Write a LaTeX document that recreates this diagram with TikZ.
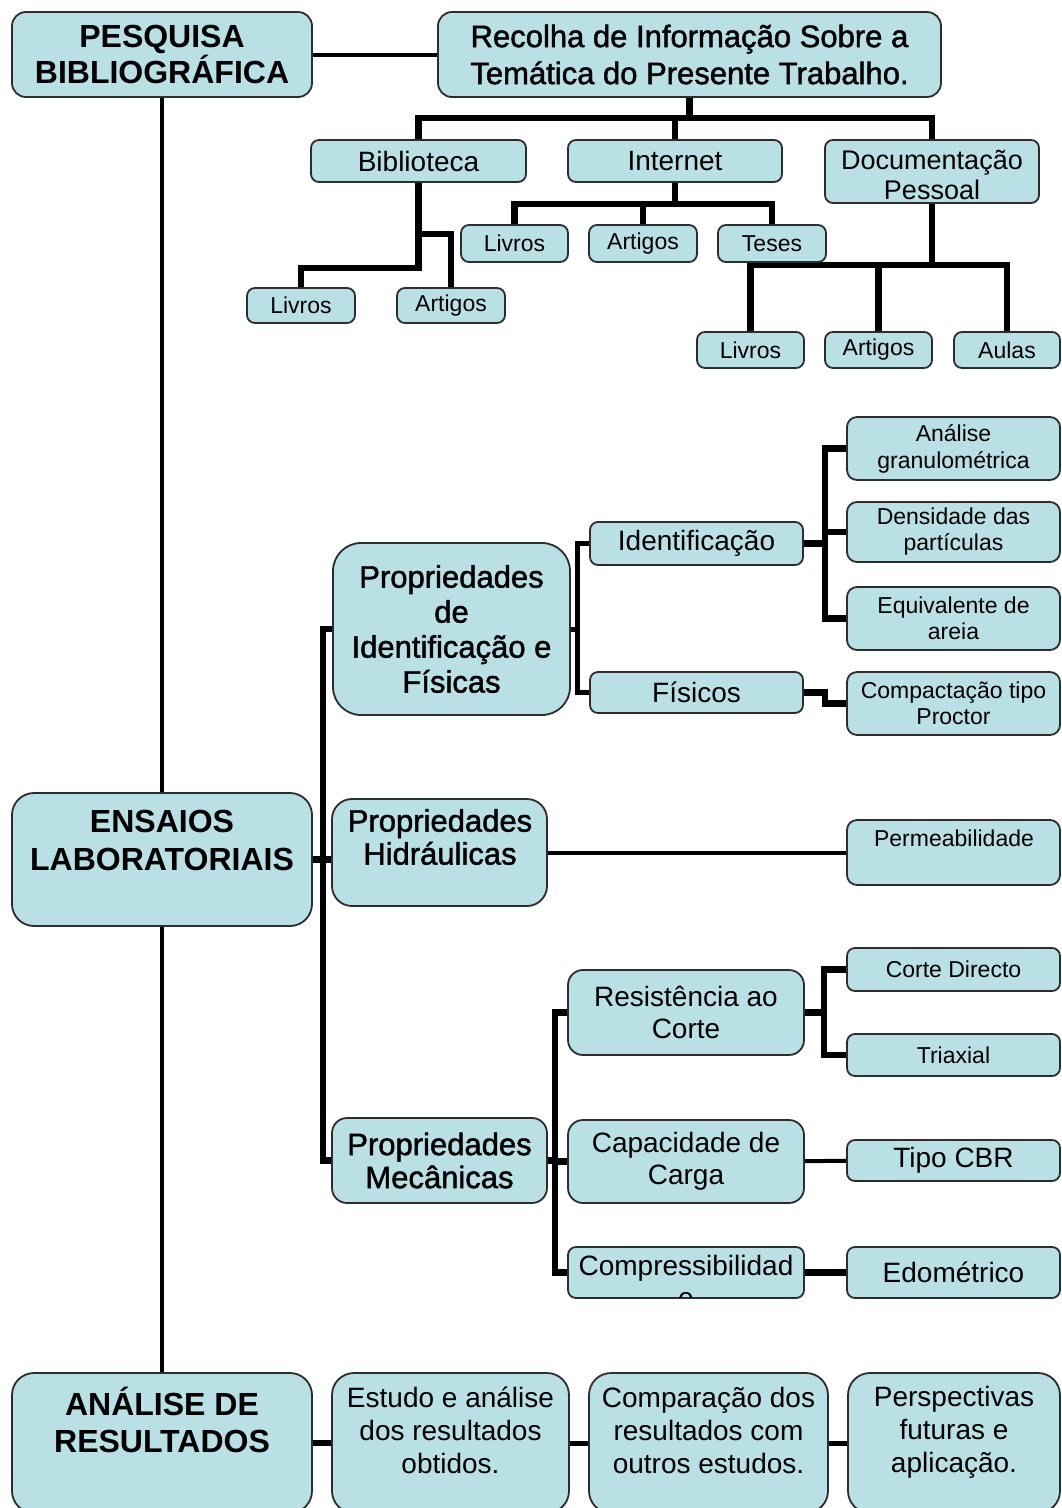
\documentclass[tikz,border=0pt]{standalone}
\usepackage{fontspec}
\setmainfont{Liberation Sans}
\newfontfamily\semib[FakeBold=1.5]{Liberation Sans}
\usetikzlibrary{backgrounds}
\definecolor{boxfill}{RGB}{185,224,228}
\definecolor{boxline}{RGB}{45,45,45}
\newcommand\BX[7][]{\node[box,minimum width={#5pt-#3pt},minimum height={#6pt-#4pt},#1] (#2) at ({(#3+#5)/2},{(#4+#6)/2}) {#7};}
\newcommand\fs[2]{\fontsize{#1}{#2}\selectfont}
\begin{document}
\begin{tikzpicture}[x=1pt,y=-1pt,
  box/.style={draw=boxline,fill=boxfill,line width=1.8pt,rounded corners=8pt,inner sep=0pt,align=center},
  bus/.style={line width=6.5pt,line join=miter},
  mid/.style={line width=5pt,line join=miter},
  thinl/.style={line width=4pt},
  txt/.style={inner sep=0pt,align=center}]
\clip (0,0) rectangle (1062,1508);
% top
\BX[rounded corners=14pt,font=\bfseries\fs{32}{36}]{pesq}{12}{12}{312}{97}{PESQUISA\\BIBLIOGRÁFICA}
\BX[rounded corners=14pt,font=\semib\fs{31}{37}]{rec}{438}{12}{941}{97}{Recolha de Informação Sobre a\\Temática do Presente Trabalho.}
\BX[font=\fs{28}{32}]{bib}{311}{140}{526}{182}{Biblioteca}
\BX[font=\fs{28}{32}]{int}{568}{140}{782}{182}{Internet}
\BX{doc}{825}{140}{1039}{203}{}
\node[txt,font=\fs{27}{30}] (docT) at (932,175) {Documentação\\Pessoal};
\BX[font=\fs{23}{26}]{livI}{461}{225}{568}{262}{Livros}
\BX[font=\fs{23}{26}]{artI}{589}{225}{697}{262}{Artigos}
\BX[font=\fs{23}{26}]{tesI}{718}{225}{826}{262}{Teses}
\BX[font=\fs{23}{26}]{livB}{247}{288}{355}{323}{Livros}
\BX[font=\fs{23}{26}]{artB}{397}{288}{505}{323}{Artigos}
\BX[font=\fs{23}{26}]{livD}{697}{332}{804}{368}{Livros}
\BX[font=\fs{23}{26}]{artD}{825}{332}{932}{368}{Artigos}
\BX[font=\fs{23}{26}]{aul}{954}{332}{1060}{368}{Aulas}
% identification
\BX[rounded corners=28pt,font=\semib\fs{31}{35}]{pid}{333}{543}{570}{715}{Propriedades\\de\\Identificação e\\Físicas}
\BX[font=\fs{28}{32}]{ident}{590}{522}{803}{565}{Identificação}
\BX[font=\fs{28}{32}]{fis}{590}{672}{803}{713}{Físicos}
\BX[rounded corners=10pt,font=\fs{23}{27}]{ana}{847}{417}{1060}{480}{Análise\\granulométrica}
\BX[rounded corners=10pt,font=\fs{23}{26}]{den}{847}{502}{1060}{562}{Densidade das\\partículas}
\BX[rounded corners=10pt,font=\fs{23}{26}]{equ}{847}{587}{1060}{650}{Equivalente de\\areia}
\BX[rounded corners=10pt,font=\fs{23}{26}]{compac}{847}{672}{1060}{735}{Compactação tipo\\Proctor}
% ensaios
\BX[rounded corners=22pt]{ens}{12}{793}{312}{926}{}
\node[txt,font=\bfseries\fs{32}{38}] (ensT) at (162,840) {ENSAIOS\\LABORATORIAIS};
\BX[rounded corners=20pt]{hid}{332}{799}{547}{906}{}
\node[txt,font=\semib\fs{31}{33}] (hidT) at (440,837) {Propriedades\\Hidráulicas};
\BX[rounded corners=10pt]{perm}{847}{820}{1060}{885}{}
\node[txt,font=\fs{23}{26}] (permT) at (954,838) {Permeabilidade};
% mecanicas
\BX[rounded corners=15pt,font=\semib\fs{31}{33}]{pmec}{332}{1118}{547}{1203}{Propriedades\\Mecânicas}
\BX[rounded corners=15pt,font=\fs{28}{32}]{res}{568}{970}{804}{1055}{Resistência ao\\Corte}
\BX[rounded corners=15pt,font=\fs{28}{32}]{cap}{568}{1120}{804}{1203}{Capacidade de\\Carga}
\BX{compr}{568}{1247}{804}{1298}{}
\begin{scope}
\clip[rounded corners=8pt] (569,1248) rectangle (803,1297);
\node[txt,font=\fs{28}{32}] (comprT) at (686,1281) {Compressibilidad\\e};
\end{scope}
\BX[font=\fs{23}{26}]{cd}{847}{948}{1060}{991}{Corte Directo}
\BX[font=\fs{23}{26}]{tri}{847}{1034}{1060}{1076}{Triaxial}
\BX[font=\fs{28}{32}]{cbr}{847}{1140}{1060}{1181}{Tipo CBR}
\BX[font=\fs{28}{32}]{edo}{847}{1247}{1060}{1298}{Edométrico}
% bottom
\BX[rounded corners=22pt]{anal}{12}{1373}{312}{1513}{}
\node[txt,font=\bfseries\fs{32}{37}] (analT) at (162,1420) {ANÁLISE DE\\RESULTADOS};
\BX[rounded corners=22pt]{est}{332}{1373}{569}{1513}{}
\node[txt,font=\fs{28}{33}] (estT) at (450.5,1430) {Estudo e análise\\dos resultados\\obtidos.};
\BX[rounded corners=22pt]{compar}{589}{1373}{828}{1513}{}
\node[txt,font=\fs{28}{33}] (comparT) at (708.5,1430) {Comparação dos\\resultados com\\outros estudos.};
\BX[rounded corners=22pt]{persp}{848}{1373}{1060}{1513}{}
\node[txt,font=\fs{28}{33}] (perspT) at (954,1432) {Perspectivas\\futuras e\\aplicação.};
% connectors
\begin{scope}[on background layer]
\fill[white] (0,0) rectangle (1062,1508);
\draw[thinl] (pesq) -- (rec);
\draw[thinl] (pesq.south) -- (ens.north);
\draw[thinl] (ens.south) -- (anal.north);
\draw[bus] (rec.south) -- (rec.south |- 0,118);
\draw[bus] (bib.north) -- (bib.north |- 0,118) -- (doc.north |- 0,118) -- (doc.north);
\draw[bus] (int.north) -- (int.north |- 0,118);
\draw[bus] (int.south) -- (int.south |- 0,204);
\draw[bus] (livI.north) -- (livI.north |- 0,204) -- (tesI.north |- 0,204) -- (tesI.north);
\draw[bus] (artI.north) -- (artI.north |- 0,204);
\draw[bus] (bib.south) -- (bib.south |- 0,268) -| (livB.north);
\draw[bus] (bib.south |- 0,234) -| (artB.north);
\draw[bus] (doc.south) -- (doc.south |- 0,265);
\draw[bus] (livD.north) -- (livD.north |- 0,265) -- (aul.north |- 0,265) -- (aul.north);
\draw[bus] (artD.north) -- (artD.north |- 0,265);
\draw[bus] (pid.west) -- (pid.west -| 323,0) -- (pmec.west -| 323,0) -- (pmec.west);
\draw[bus] (ens.east) -- (hid.west |- ens.east);
\draw[mid] (pid.east) -- (pid.east -| 577,0);
\draw[mid] (ident.west) -- (ident.west -| 577,0) -- (fis.west -| 577,0) -- (fis.west);
\draw[bus] (ident.east) -- (ident.east -| 825,0);
\draw[bus] (ana.west) -- (ana.west -| 825,0) -- (equ.west -| 825,0) -- (equ.west);
\draw[bus] (den.west) -- (den.west -| 825,0);
\draw[bus] (fis.east) -- (fis.east -| 825,0) -- (compac.west -| 825,0) -- (compac.west);
\draw[thinl] (hid) -- (perm);
\draw[bus] (pmec.east) -- (pmec.east -| 555,0);
\draw[bus] (res.west) -- (res.west -| 555,0) -- (compr.west -| 555,0) -- (compr.west);
\draw[bus] (cap.west) -- (cap.west -| 555,0);
\draw[bus] (res.east) -- (res.east -| 824,0);
\draw[bus] (cd.west) -- (cd.west -| 824,0) -- (tri.west -| 824,0) -- (tri.west);
\draw[thinl] (cap) -- (cbr);
\draw[bus] (compr) -- (edo);
\draw[bus] (anal) -- (est);
\draw[mid] (est) -- (compar);
\draw[mid] (compar) -- (persp);
\end{scope}
\end{tikzpicture}
\end{document}
